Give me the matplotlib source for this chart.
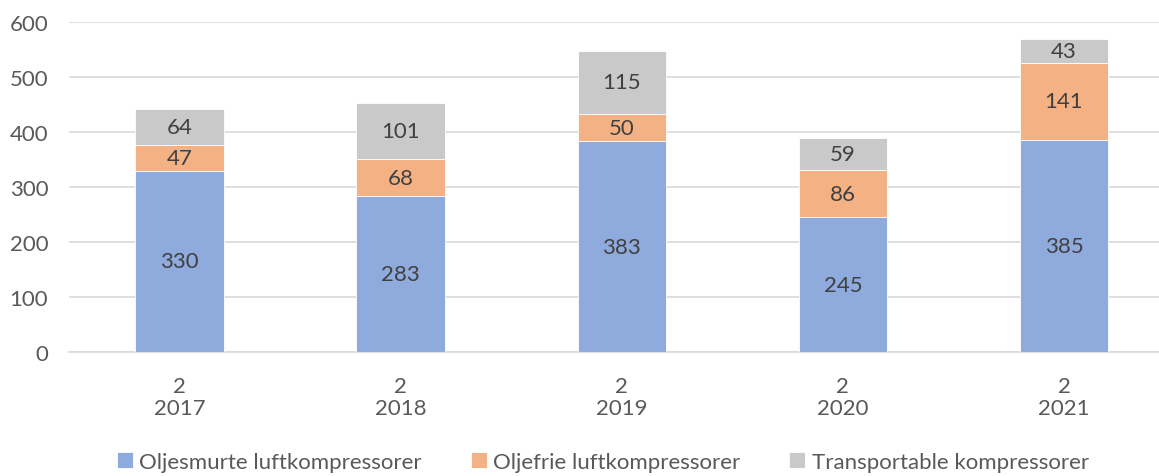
import matplotlib
matplotlib.use("Agg")
import matplotlib.pyplot as plt
import numpy as np

plt.rcParams['font.family'] = ['Lato', 'DejaVu Sans']

years = ["2017", "2018", "2019", "2020", "2021"]
tick_labels = ["2\n2017", "2\n2018", "2\n2019", "2\n2020", "2\n2021"]
series_names = ["Oljesmurte luftkompressorer", "Oljefrie luftkompressorer", "Transportable kompressorer"]
oljesmurte = [330, 283, 383, 245, 385]
oljefrie = [47, 68, 50, 86, 141]
transportable = [64, 101, 115, 59, 43]
colors = ["#8FAADC", "#F4B183", "#C9C9C9"]

W, H = 1159, 477
fig = plt.figure(figsize=(W/100, H/100), dpi=100)
ax = fig.add_axes([69/W, (H-353)/H, 1 - 69/W, (353-23)/H])

x = np.arange(len(years))
bottom = np.zeros(len(years))
handles = []
for vals, name, col in zip([oljesmurte, oljefrie, transportable], series_names, colors):
    vals = np.array(vals)
    b = ax.bar(x, vals, 0.4, bottom=bottom, color=col, label=name, zorder=3,
               edgecolor='white', linewidth=0.6)
    handles.append(b)
    for xi, v, bt in zip(x, vals, bottom):
        ax.text(xi, bt + v/2, str(v), ha='center', va='center', fontsize=16,
                color='#404040', zorder=4)
    bottom += vals

ax.set_ylim(0, 600)
ax.set_xlim(-0.5, (1159-180)/221)
ax.set_yticks(range(0, 601, 100))
ax.yaxis.grid(True, color='#D9D9D9', linewidth=1.2, zorder=0)
ax.set_axisbelow(True)
for s in ['top', 'right', 'left']:
    ax.spines[s].set_visible(False)
ax.spines['bottom'].set_color('#D9D9D9')
ax.spines['bottom'].set_linewidth(1.2)
ax.tick_params(axis='both', length=0, labelsize=16, colors='#595959')
ax.tick_params(axis='y', pad=15)
ax.tick_params(axis='x', pad=17)
ax.set_xticks(x)
ax.set_xticklabels(tick_labels, linespacing=1.15)

leg = fig.legend(handles=handles, labels=series_names, loc='center',
                 bbox_to_anchor=(603/W, 14/H), ncol=3, frameon=False,
                 fontsize=16, handlelength=0.7, handleheight=0.7,
                 handletextpad=0.3, columnspacing=2.2)
for t in leg.get_texts():
    t.set_color('#595959')

fig.savefig("out.png", dpi=100)
